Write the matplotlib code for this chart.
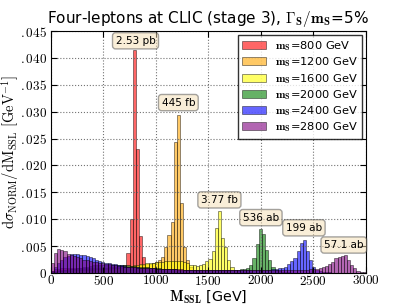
import numpy as np
import matplotlib
matplotlib.use('Agg')
import matplotlib.pyplot as plt
from matplotlib.ticker import FuncFormatter, MultipleLocator

plt.rcParams['mathtext.fontset'] = 'cm'

# 30 GeV bins from 0 to 3000
bin_edges = np.arange(0, 3001, 30)

h800 = [0.0004, 0.0007, 0.0008, 0.0009, 0.0009, 0.0009, 0.0009, 0.0009, 0.0009, 0.0009,
        0.0009, 0.0009, 0.0009, 0.0009, 0.0010, 0.0010, 0.0010, 0.0010, 0.0011, 0.0011,
        0.0012, 0.0012, 0.0013, 0.0015, 0.0037, 0.0100, 0.0415, 0.0230, 0.0069, 0.0030,
        0.0012, 0.0006, 0.0003, 0.0002, 0.0001, 0.0001, 0, 0, 0, 0] + [0] * 60

h1200 = [0.0002, 0.0004, 0.0005, 0.0006, 0.0006, 0.0007, 0.0007, 0.0007, 0.0007, 0.0007,
         0.0007, 0.0007, 0.0008, 0.0008, 0.0008, 0.0008, 0.0009, 0.0009, 0.0009, 0.0010,
         0.0010, 0.0010, 0.0011, 0.0011, 0.0012, 0.0012, 0.0013, 0.0013, 0.0014, 0.0015,
         0.0016, 0.0017, 0.0018, 0.0020, 0.0024, 0.0030, 0.0049, 0.0071, 0.0094, 0.0243,
         0.0294, 0.0130, 0.0049, 0.0024, 0.0012, 0.0006, 0.0003, 0.0002, 0.0001, 0.0001] + [0] * 50

h1600 = [0.0001, 0.0002, 0.0003, 0.0003, 0.0004, 0.0004, 0.0004, 0.0005, 0.0005, 0.0005,
         0.0005, 0.0006, 0.0006, 0.0006, 0.0007, 0.0007, 0.0007, 0.0008, 0.0008, 0.0009,
         0.0009, 0.0010, 0.0010, 0.0011, 0.0012, 0.0013, 0.0014, 0.0015, 0.0016, 0.0017,
         0.0018, 0.0019, 0.0019, 0.0020, 0.0021, 0.0021, 0.0022, 0.0022, 0.0023, 0.0023,
         0.0023, 0.0022, 0.0020, 0.0018, 0.0015, 0.0014, 0.0013, 0.0015, 0.0017, 0.0022,
         0.0026, 0.0040, 0.0084, 0.0115, 0.0065, 0.0049, 0.0025, 0.0012, 0.0006, 0.0003,
         0.0002, 0.0001, 0.0001, 0.0001] + [0] * 36

h2000 = [0.0001, 0.0002, 0.0003, 0.0004, 0.0005, 0.0006, 0.0007, 0.0008, 0.0009, 0.0010,
         0.0011, 0.0012, 0.0013, 0.0014, 0.0014, 0.0015, 0.0015, 0.0015, 0.0015, 0.0015,
         0.0015, 0.0015, 0.0014, 0.0014, 0.0014, 0.0013, 0.0013, 0.0012, 0.0012, 0.0011,
         0.0011, 0.0010, 0.0010, 0.0009, 0.0009, 0.0008, 0.0008, 0.0007, 0.0007, 0.0007,
         0.0006, 0.0006, 0.0006, 0.0005, 0.0005, 0.0005, 0.0005, 0.0005, 0.0005, 0.0005,
         0.0005, 0.0005, 0.0005, 0.0005, 0.0005, 0.0005, 0.0006, 0.0006, 0.0006, 0.0006,
         0.0007, 0.0008, 0.0010, 0.0015, 0.0028, 0.0054, 0.0082, 0.0073, 0.0043, 0.0024,
         0.0012, 0.0006, 0.0003, 0.0002, 0.0001, 0.0001] + [0] * 24

h2400 = [0.0004, 0.0011, 0.0019, 0.0025, 0.0029, 0.0032, 0.0035, 0.0036, 0.0035, 0.0034,
         0.0033, 0.0031, 0.0029, 0.0027, 0.0025, 0.0023, 0.0021, 0.0019, 0.0018, 0.0017,
         0.0016, 0.0015, 0.0014, 0.0013, 0.0012, 0.0012, 0.0011, 0.0011, 0.0010, 0.0010,
         0.0009, 0.0009, 0.0009, 0.0008, 0.0008, 0.0008, 0.0007, 0.0007, 0.0007, 0.0007,
         0.0006, 0.0006, 0.0006, 0.0006, 0.0006, 0.0005, 0.0005, 0.0005, 0.0005, 0.0005,
         0.0005, 0.0005, 0.0005, 0.0005, 0.0005, 0.0005, 0.0005, 0.0005, 0.0005, 0.0005,
         0.0005, 0.0005, 0.0005, 0.0005, 0.0005, 0.0005, 0.0005, 0.0006, 0.0006, 0.0006,
         0.0007, 0.0008, 0.0009, 0.0010, 0.0012, 0.0016, 0.0022, 0.0028, 0.0040, 0.0055,
         0.0062, 0.0040, 0.0024, 0.0012, 0.0006, 0.0003, 0.0002, 0.0001, 0.0001, 0] + [0] * 10

h2800 = [0.0019, 0.0037, 0.0044, 0.0043, 0.0040, 0.0036, 0.0033, 0.0031, 0.0029, 0.0027,
         0.0025, 0.0024, 0.0022, 0.0021, 0.0020, 0.0019, 0.0018, 0.0017, 0.0016, 0.0015,
         0.0014, 0.0013, 0.0013, 0.0012, 0.0012, 0.0011, 0.0011, 0.0010, 0.0010, 0.0010,
         0.0009, 0.0009, 0.0009, 0.0008, 0.0008, 0.0008, 0.0008, 0.0007, 0.0007, 0.0007,
         0.0007, 0.0007, 0.0006, 0.0006, 0.0006, 0.0006, 0.0006, 0.0006, 0.0006, 0.0006,
         0.0005, 0.0005, 0.0005, 0.0005, 0.0005, 0.0005, 0.0005, 0.0005, 0.0005, 0.0005,
         0.0005, 0.0005, 0.0005, 0.0005, 0.0005, 0.0005, 0.0005, 0.0005, 0.0005, 0.0005,
         0.0005, 0.0005, 0.0005, 0.0005, 0.0005, 0.0005, 0.0005, 0.0005, 0.0005, 0.0006,
         0.0006, 0.0006, 0.0007, 0.0007, 0.0008, 0.0009, 0.0011, 0.0013, 0.0017, 0.0021,
         0.0027, 0.0030, 0.0032, 0.0033, 0.0025, 0.0015, 0.0009, 0.0004, 0.0002, 0.0001]

masses = [800, 1200, 1600, 2000, 2400, 2800]
hists = [h800, h1200, h1600, h2000, h2400, h2800]
colors = ['red', 'orange', 'yellow', 'green', 'blue', 'purple']
xsec_labels = ['2.53 pb', '445 fb', '3.77 fb', '536 ab', '199 ab', '57.1 ab']
label_x = [806, 1214, 1605, 2000, 2410, 2790]
label_y = [0.0432, 0.0317, 0.0136, 0.0103, 0.0084, 0.0052]

fig = plt.figure(figsize=(4.07, 3.05), dpi=100)
ax = fig.add_axes([0.125, 0.105, 0.774, 0.793])

for m, h, c in zip(masses, hists, colors):
    ax.bar(bin_edges[:-1], h, width=30, align='edge', color=c, alpha=0.6,
           edgecolor='k', linewidth=0.5, label=r'$\mathbf{m_S}$=%d GeV' % m)

for lx, ly, t in zip(label_x, label_y, xsec_labels):
    ax.text(lx, ly, t, ha='center', va='center', fontsize=7.5,
            bbox=dict(boxstyle='round,pad=0.3', facecolor='wheat', alpha=0.5, edgecolor='0.3'))

ax.set_xlim(0, 3000)
ax.set_ylim(0, 0.045)
ax.xaxis.set_major_locator(MultipleLocator(500))
ax.yaxis.set_major_locator(MultipleLocator(0.005))
ax.xaxis.set_major_formatter(FuncFormatter(lambda v, p: r'$%d$' % v))
ax.yaxis.set_major_formatter(FuncFormatter(
    lambda v, p: r'$0$' if abs(v) < 1e-9 else r'$%s$' % ('%.3f' % v)[1:]))
ax.tick_params(direction='in', top=True, right=True, labelsize=9.5, length=4)
ax.tick_params(axis='x', pad=1)
ax.tick_params(axis='y', pad=2.5)
ax.grid(True, color='0.45', linestyle=':', linewidth=0.8)

ax.set_title(r'Four-leptons at CLIC (stage 3), $\mathbf{\Gamma_S/m_S}$=5%', fontsize=11)
ax.set_xlabel(r'$\mathbf{M_{SSL}}$ [GeV]', fontsize=10.3)
ax.xaxis.set_label_coords(0.5, -0.131)
ax.xaxis.label.set_verticalalignment('bottom')
ax.set_ylabel(r'$\mathrm{d}\sigma_{\mathrm{NORM}}/\mathrm{dM_{SSL}}\ [\mathrm{GeV}^{-1}]$',
              fontsize=10.5)
ax.yaxis.set_label_coords(-0.094, 0.5)

leg = ax.legend(loc='upper right', fontsize=8.2, fancybox=False, borderaxespad=0.3,
                handlelength=2.1, labelspacing=0.2)
leg.get_frame().set_edgecolor('k')

fig.savefig('out.png', dpi=100)
